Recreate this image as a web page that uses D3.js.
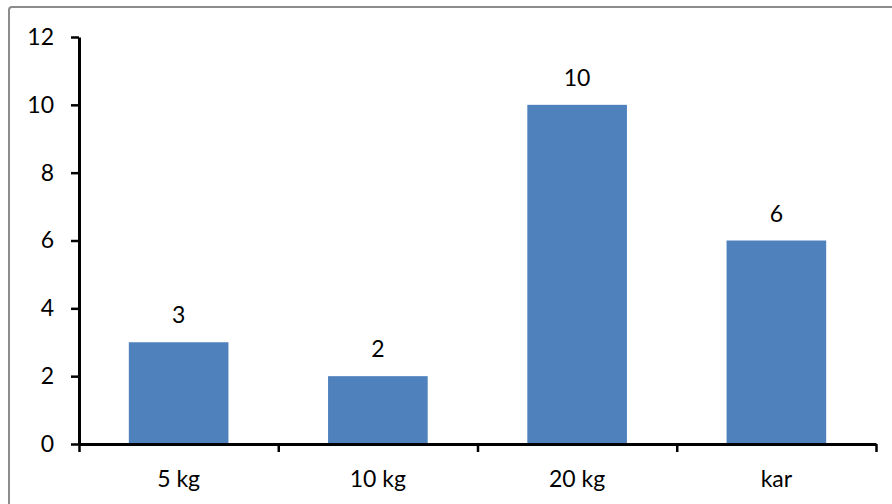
<!DOCTYPE html>
<html><head><meta charset="utf-8">
<script src="https://cdn.jsdelivr.net/npm/d3@7"></script>
<style>body{margin:0;background:#fff}svg{display:block}</style>
</head><body>
<svg id="c" width="892" height="504"></svg>
<script>
const categories = ["5 kg", "10 kg", "20 kg", "kar"];
const values = [3, 2, 10, 6];
const yTicks = [0, 2, 4, 6, 8, 10, 12];

const svg = d3.select("#c");
const font = "Lato, 'Open Sans', sans-serif";
const fs = 23;
svg.append("rect").attr("x", 9).attr("y", 7).attr("width", 920).attr("height", 540)
  .attr("rx", 3).attr("fill", "#fff").attr("stroke", "#8c8c8c").attr("stroke-width", 2);

const x = d3.scaleBand().domain(categories).range([79, 876]).paddingInner(0.5).paddingOuter(0.25);
const y = d3.scaleLinear().domain([0, 12]).range([444, 37]);

svg.selectAll("rect.bar").data(values).join("rect").attr("class", "bar")
  .attr("x", (d, i) => x(categories[i])).attr("width", x.bandwidth())
  .attr("y", d => y(d)).attr("height", d => y(0) - y(d)).attr("fill", "#4F81BD");

svg.selectAll("text.lbl").data(values).join("text").attr("class", "lbl")
  .attr("x", (d, i) => x(categories[i]) + x.bandwidth() / 2)
  .attr("y", d => y(d) - 19).attr("text-anchor", "middle")
  .attr("font-family", font).attr("font-size", fs).attr("fill", "#000").text(d => d);

const yAxis = svg.append("g").attr("transform", "translate(79,0)")
  .call(d3.axisLeft(y).tickValues(yTicks).tickSize(8).tickSizeOuter(0).tickPadding(17));
yAxis.select(".domain").attr("stroke", "#000").attr("stroke-width", 3);
yAxis.selectAll(".tick line").attr("stroke", "#000").attr("stroke-width", 2.5);
yAxis.selectAll("text").attr("font-family", font).attr("font-size", fs).attr("fill", "#000");

const xb = d3.scaleLinear().domain([0, 4]).range([79, 876]);
const xAxis = svg.append("g").attr("transform", "translate(0,444)")
  .call(d3.axisBottom(xb).tickValues([0, 1, 2, 3, 4]).tickSize(8).tickSizeOuter(0).tickFormat(""));
xAxis.select(".domain").attr("stroke", "#000").attr("stroke-width", 3);
xAxis.selectAll(".tick line").attr("stroke", "#000").attr("stroke-width", 2.5);

svg.append("g").selectAll("text").data(categories).join("text")
  .attr("x", d => x(d) + x.bandwidth() / 2).attr("y", 487).attr("text-anchor", "middle")
  .attr("font-family", font).attr("font-size", fs).attr("fill", "#000").text(d => d);
</script>
</body></html>
